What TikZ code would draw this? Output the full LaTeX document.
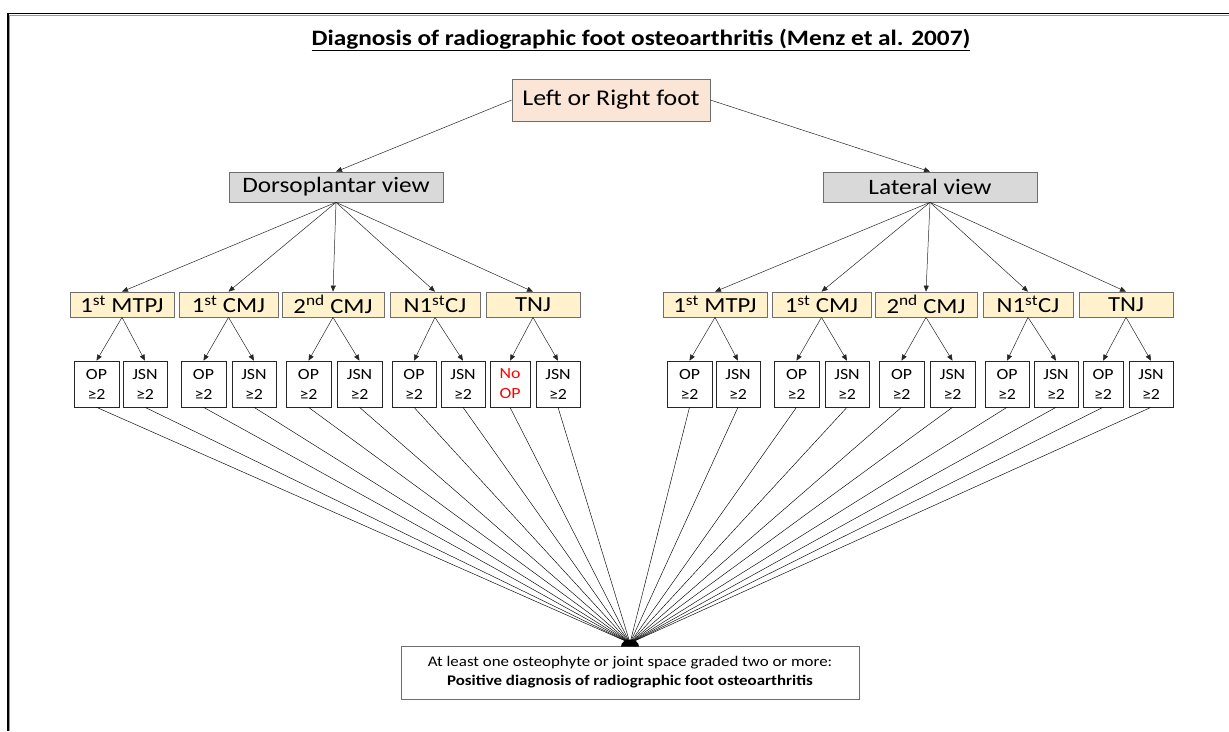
\documentclass[tikz,border=0pt]{standalone}
\usepackage{fontspec}
\setmainfont{Carlito}[FakeStretch=1.15]
\usetikzlibrary{arrows.meta}
\definecolor{peach}{HTML}{FBE5D6}
\definecolor{viewgray}{HTML}{D9D9D9}
\definecolor{jointfill}{HTML}{FFF2CC}
\definecolor{boxline}{HTML}{6E6E6E}
\begin{document}
\begin{tikzpicture}[x=1pt,y=-1pt,
  box/.style={draw=boxline, line width=0.7pt, inner sep=0pt, align=center},
  rootbox/.style={box, fill=peach, minimum width=198pt, minimum height=42pt, font=\fontsize{22.5}{26}\selectfont},
  viewbox/.style={box, fill=viewgray, minimum width=214pt, minimum height=30pt, font=\fontsize{22}{26}\selectfont},
  jointbox/.style={box, fill=jointfill, minimum height=25pt, font=\fontsize{21.5}{24}\selectfont},
  leafbox/.style={draw=black!85, line width=0.6pt, inner sep=0pt, align=center, minimum height=46pt, font=\fontsize{15.5}{20}\selectfont},
  resbox/.style={draw=boxline, line width=0.7pt, inner sep=0pt, align=center, minimum width=458pt, minimum height=53pt, font=\fontsize{14.7}{19}\selectfont},
  arr/.style={-{Triangle[length=6pt,width=5pt]}, draw=black!85, line width=0.5pt},
  fan/.style={draw=black, line width=0.45pt}
]
\useasboundingbox (0,0) rectangle (1229,731);
\draw[black!40, line width=0.8pt] (9.5,731) -- (9.5,15) -- (1229,15);
\draw[line width=1.2pt] (8,731) -- (8,13.5) -- (1229,13.5);

\node[font=\bfseries\fontsize{22}{26}\selectfont] (title) at (641,40) {\underline{Diagnosis of radiographic foot osteoarthritis (Menz et al. 2007)}};

\node[rootbox] (root) at (611,100) {Left or Right foot};
\node[viewbox] (dp) at (336,187) {Dorsoplantar view};
\node[viewbox] (lv) at (930,187) {Lateral view};
\draw[arr] (root.west) -- (dp.north);
\draw[arr] (root.east) -- (lv.north);

\node[resbox] (res) at (630,672.5) {At least one osteophyte or joint space graded two or more:\\\textbf{Positive diagnosis of radiographic foot osteoarthritis}};
\coordinate (hub) at (630,643);

\foreach \s/\off/\pa/\tc/\ta in {L/0/dp/red/{No\\OP}, R/593/lv/black/{OP\\≥2}} {
  \foreach \j/\cx/\w/\lab in {1/122/104/{1\textsuperscript{st} MTPJ}, 2/228.5/99/{1\textsuperscript{st} CMJ}, 3/333/102/{2\textsuperscript{nd} CMJ}, 4/435/90/{N1\textsuperscript{st}CJ}, 5/533/94/{TNJ}} {
    \node[jointbox, minimum width=\w pt] (\s j\j) at (\cx+\off,304.5) {\lab};
    \draw[arr] (\pa.south) -- (\s j\j.north);
  }
  \foreach \j/\ax/\aw/\bx/\bw in {1/96.5/45/145/44, 2/203.5/45/254/44, 3/308.5/45/359.5/45, 4/414/44/463/44, 5/510/40/558/44} {
    \ifnum\j=5 \def\atext{\ta}\def\acol{\tc}\else\def\atext{OP\\≥2}\def\acol{black}\fi
    \node[leafbox, minimum width=\aw pt, text=\acol] (\s a\j) at (\ax+\off,384) {\atext};
    \node[leafbox, minimum width=\bw pt] (\s b\j) at (\bx+\off,384) {JSN\\≥2};
    \draw[arr] (\s j\j.south) -- (\s a\j.north);
    \draw[arr] (\s j\j.south) -- (\s b\j.north);
    \draw[fan] (\s a\j.south) -- (hub);
    \draw[fan] (\s b\j.south) -- (hub);
  }
}
\fill (621,646.5) arc[start angle=180, end angle=0, x radius=9pt, y radius=7pt] -- cycle;
\end{tikzpicture}
\end{document}
